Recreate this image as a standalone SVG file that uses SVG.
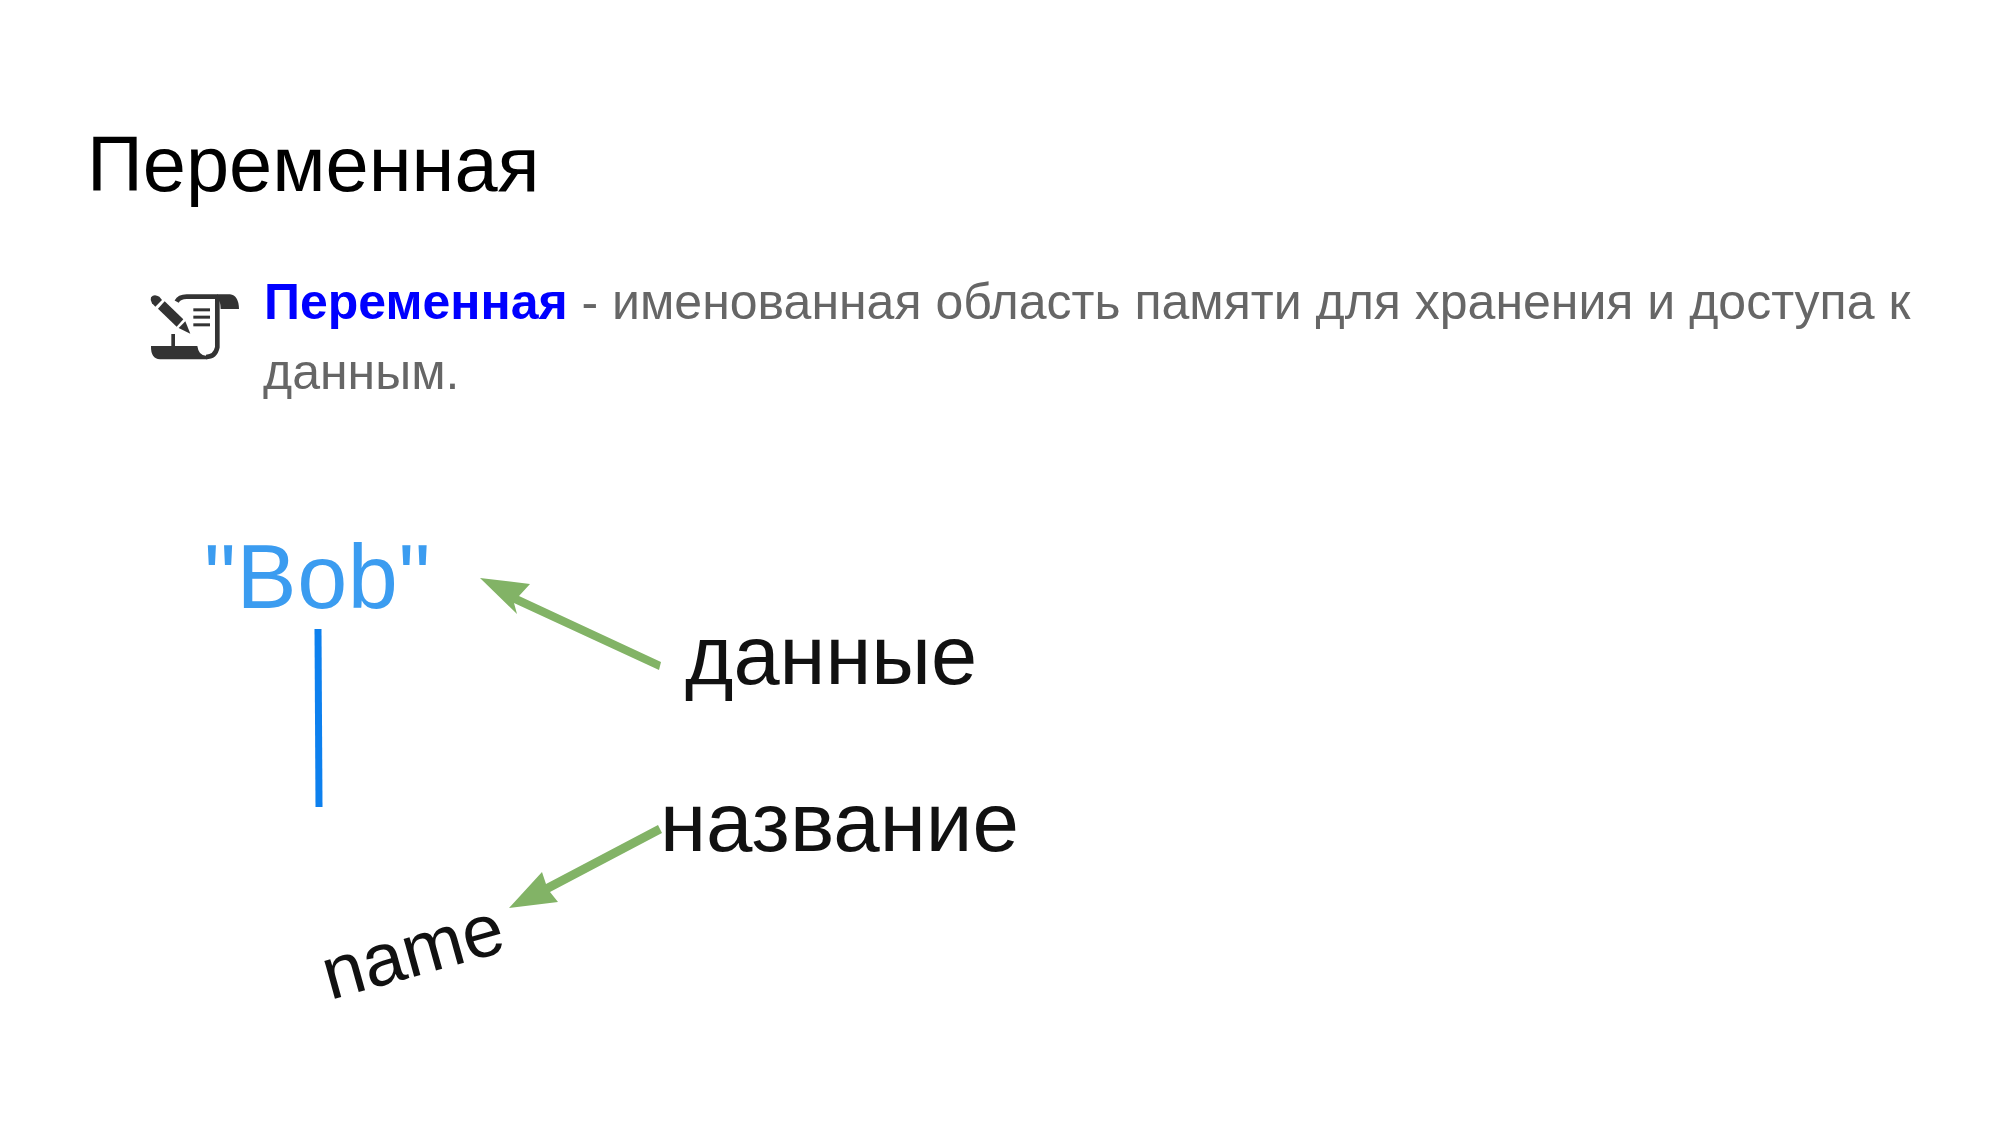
<svg xmlns="http://www.w3.org/2000/svg" width="2000" height="1125" viewBox="0 0 2000 1125">
<style>
text{font-family:"Liberation Sans",Arial,sans-serif}
.body{font-size:50px;fill:#666666}
.label{fill:#111111}
.arrow{fill:#82b366}
</style>
<rect width="2000" height="1125" fill="#ffffff"/>
<g id="title"><text x="87" y="191" font-size="77.6" fill="#000000">Переменная</text></g>
<g id="icon" transform="translate(130 260) scale(0.3333)" fill="#333333">
<path d="M63 112 Q72 100 88 110 L96 120 L76 140 L66 130 Q60 120 63 112Z"/>
<path d="M84 146 L104 124 L160 178 L140 200Z"/>
<path d="M146 204 L166 184 L181 221Z"/>
<path d="M262 103 L300 103 Q326 106 327 147 L272 147 Q272 125 262 115Z"/>
<path d="M63 258 H124 V222 H135 V258 H202 Q206 287 228 287 L232 298 H90 Q62 296 63 258Z"/>
<path d="M262 112 V262 Q256 291 228 291 M140 125 Q148 110 170 110 H264" fill="none" stroke="#333333" stroke-width="14"/>
<rect x="190" y="145" width="50" height="9"/>
<rect x="190" y="167" width="50" height="9"/>
<rect x="190" y="190" width="50" height="9"/>
</g>
<g id="definition">
<text x="264" y="319" class="body"><tspan font-weight="700" fill="#0000ff">Переменная</tspan> - именованная область памяти для хранения и доступа к</text>
<text x="263" y="389" class="body">данным.</text>
</g>
<g id="value"><text x="204" y="608" font-size="90" letter-spacing="0.6" fill="#3b9cf0">"Bob"</text></g>
<g id="data-label"><text x="685" y="684" font-size="83" class="label">данные</text></g>
<g id="name-label"><text x="660" y="851" font-size="83.5" class="label">название</text></g>
<g id="name-text"><text transform="translate(330 1000) rotate(-15.5)" font-size="74" class="label">name</text></g>
<g id="connectors">
<line x1="318" y1="629" x2="319" y2="807" stroke="#0d80ee" stroke-width="7"/>
<path class="arrow" d="M483 578 L533 584 L522 596 L664 662 L662 670 L517 603 L520 614Z" transform="translate(-3 0)"/>
<path class="arrow" d="M512 908 L545 872 L549 884 L661 825 L665 833 L553 892 L561 902Z" transform="translate(-3 0)"/>
</g>
</svg>
